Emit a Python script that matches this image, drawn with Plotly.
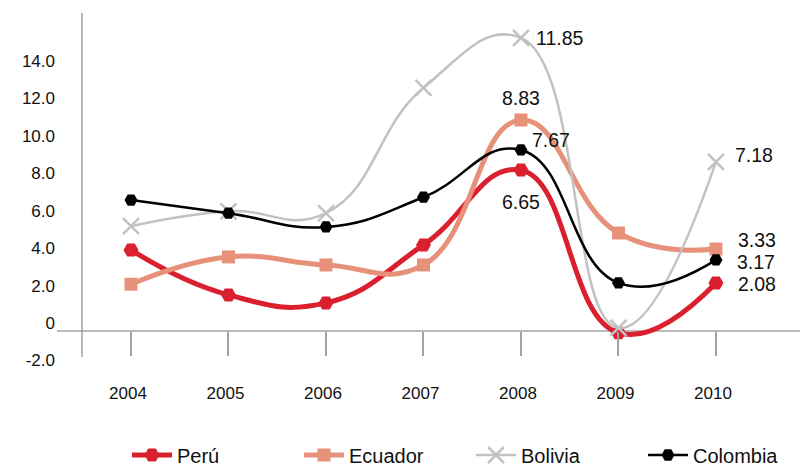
import plotly.graph_objects as go

years = ["2004", "2005", "2006", "2007", "2008", "2009", "2010"]
peru = [4.33, 1.93, 1.5, 4.6, 8.6, -0.1, 2.57]
ecuador = [2.5, 3.96, 3.53, 3.53, 11.28, 5.24, 4.38]
bolivia = [5.6, 6.4, 6.3, 13.0, 15.67, 0.16, 9.04]
colombia = [7.0, 6.3, 5.56, 7.15, 9.68, 2.57, 3.8]

peru_labels = ["", "", "", "", "6.65", "", "2.08"]
ecuador_labels = ["", "", "", "", "8.83", "", "3.33"]
bolivia_labels = ["", "", "", "", "11.85", "", "7.18"]
colombia_labels = ["", "", "", "", "7.67", "", "3.17"]

ytick_vals = [-2, 0, 2, 4, 6, 8, 10, 12, 14]
ytick_text = ["-2.0", "0", "2.0", "4.0", "6.0", "8.0", "10.0", "12.0", "14.0"]

FONT = "Liberation Sans, Arial, Helvetica, sans-serif"
GRAY_AX = "#A3A3A3"

series = [
    dict(name="Perú", y=peru, labels=peru_labels, color="#DA1F2E", width=5,
         symbol="hexagon2", size=15,
         offsets={4: (0, -32, "center"), 6: (20, -1, "left")}),
    dict(name="Ecuador", y=ecuador, labels=ecuador_labels, color="#E8917A", width=5,
         symbol="square", size=13,
         offsets={4: (0, 22, "center"), 6: (20, 9, "left")}),
    dict(name="Bolivia", y=bolivia, labels=bolivia_labels, color="#C2C2C2", width=2.5,
         symbol="x-thin", size=16,
         offsets={4: (13, 0, "left"), 6: (17, 7, "left")}),
    dict(name="Colombia", y=colombia, labels=colombia_labels, color="#000000", width=2.5,
         symbol="hexagon2", size=13,
         offsets={4: (9, 10, "left"), 6: (19, -2, "left")}),
]

fig = go.Figure()
annotations = []
for s in series:
    fig.add_trace(go.Scatter(
        x=years, y=s["y"], name=s["name"], mode="lines+markers",
        line=dict(color=s["color"], width=s["width"], shape="spline", smoothing=1.3),
        marker=dict(symbol=s["symbol"], size=s["size"], color=s["color"],
                    line=dict(color=s["color"], width=2.5 if s["symbol"] == "x-thin" else 0)),
    ))
    for i, lab in enumerate(s["labels"]):
        if lab:
            dx, dy, anc = s["offsets"][i]
            annotations.append(dict(
                x=i, y=s["y"][i], xref="x", yref="y", text=lab, showarrow=False,
                xanchor=anc, yanchor="middle", xshift=dx, yshift=dy,
                font=dict(family=FONT, size=19.5, color="#111111"),
            ))

ymin, ymax = -2.3, 17.0
axis_bottom = -1.39

fig.update_layout(
    width=808, height=468,
    margin=dict(l=74, r=8, t=5, b=102, autoexpand=False),
    paper_bgcolor="white", plot_bgcolor="white",
    font=dict(family=FONT, size=17, color="#111111"),
    showlegend=True,
    legend=dict(orientation="h", xref="container", yref="container",
                x=119 / 808, xanchor="left", y=(468 - 447) / 468, yanchor="middle",
                font=dict(family=FONT, size=20, color="#111111"),
                entrywidth=117, entrywidthmode="pixels", itemwidth=40,
                bgcolor="rgba(0,0,0,0)"),
    xaxis=dict(type="category", range=[-0.5026, 6.944], showgrid=False, zeroline=False,
               showline=False, ticks="outside", ticklen=24, tickwidth=1.5, tickcolor=GRAY_AX,
               anchor="free", position=(0 - ymin) / (ymax - ymin), automargin=False,
               ticklabelstandoff=23, tickfont=dict(size=17), ticklabelshift=-3),
    yaxis=dict(range=[ymin, ymax], showgrid=False, zeroline=False, showline=False,
               tickvals=ytick_vals, ticktext=ytick_text, ticks="", automargin=False,
               ticklabelshift=-8, ticklabelstandoff=26, tickfont=dict(size=17)),
    annotations=annotations,
    shapes=[
        dict(type="line", xref="paper", yref="y", x0=-0.0344, x1=1, y0=0, y1=0,
             line=dict(color=GRAY_AX, width=1.5), layer="below"),
        dict(type="line", xref="paper", yref="y", x0=0, x1=0, y0=axis_bottom, y1=ymax,
             line=dict(color=GRAY_AX, width=1.5), layer="below"),
    ],
)

fig.write_html("out.html")
